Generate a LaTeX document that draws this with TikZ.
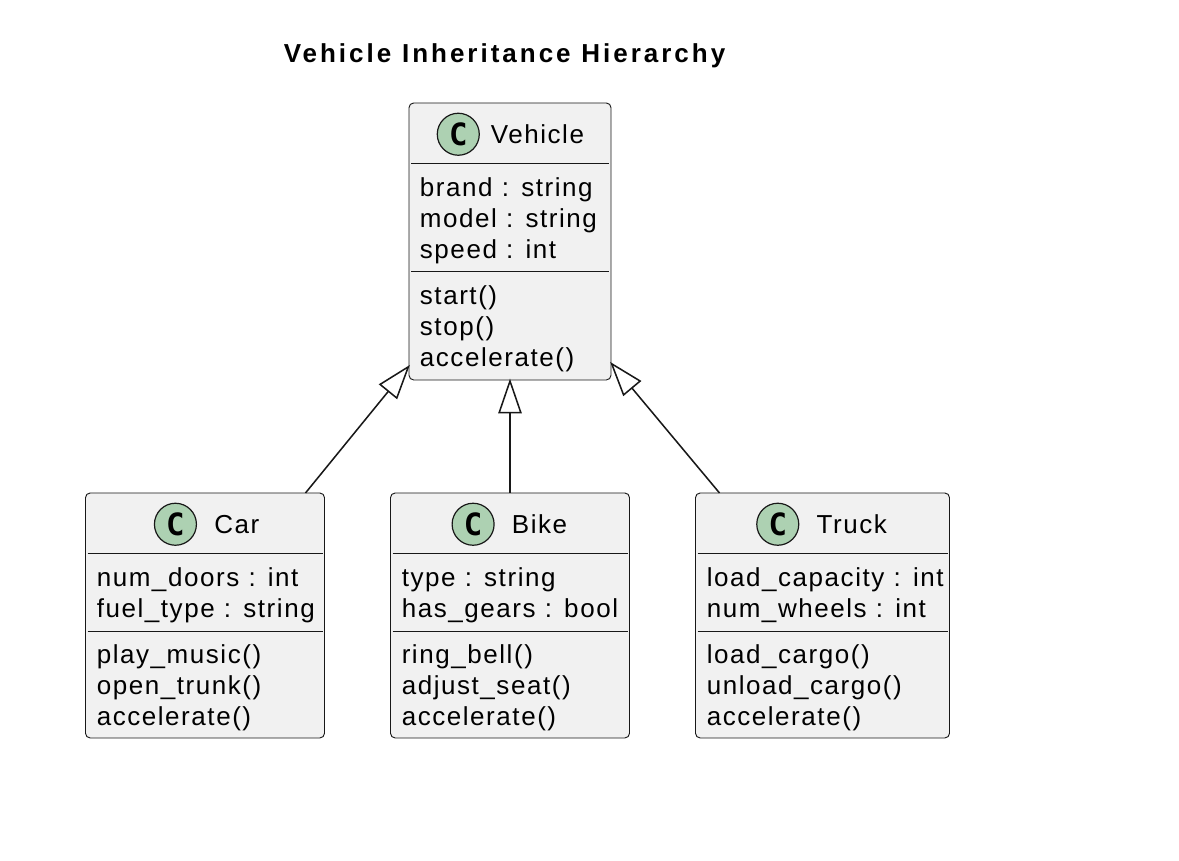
\documentclass[tikz,border=0pt]{standalone}
\usepackage{fontspec}
\setmainfont[LetterSpace=6,WordSpace=1.05]{Liberation Sans}
\newfontfamily\spotfont{DejaVu Sans Mono}
\usetikzlibrary{arrows.meta,positioning}
\definecolor{boxfill}{HTML}{F1F1F1}
\definecolor{boxline}{HTML}{181818}
\definecolor{spotfill}{HTML}{ADD1B2}

\begin{document}
\begin{tikzpicture}[
  node distance=49.5pt,
  classbox/.style={draw=boxline, fill=boxfill, rounded corners=3.5pt, line width=0.7pt,
                   minimum height=#1, inner sep=0pt, outer sep=0pt},
  classbox/.default=183.75pt,
  spot/.style={circle, draw=boxline, fill=spotfill, line width=0.9pt, minimum size=31.5pt,
               inner sep=0pt, font=\spotfont\bfseries\fontsize{23}{23}\selectfont},
  head/.style={inner sep=0pt, font=\fontsize{19.5}{23.25}\selectfont},
  members/.style={anchor=north west, inner sep=0pt, align=left,
                  font=\fontsize{19.5}{23.25}\selectfont},
  rule/.style={draw=boxline, line width=0.5pt},
  inherit/.style={{Triangle[open, length=26pt, width=17.5pt, fill=white]}-, draw=boxline, line width=1.15pt, shorten <=-1pt}]
\useasboundingbox (0,0) rectangle (884.25pt,-645.75pt);
\node[font=\bfseries\fontsize{19.5}{23}\selectfont, inner sep=0pt] (title) at (378.4pt,-42pt) {\addfontfeature{LetterSpace=11.5}Vehicle Inheritance Hierarchy};
% parent class
\node[classbox=207.75pt, minimum width=151.5pt] (vehicle) at (382.5pt,-181.1pt) {};
\node[classbox, minimum width=179.25pt, below=84.75pt of vehicle] (bike) {};
\node[classbox, minimum width=179.25pt, left=of bike] (car) {};
\node[classbox, minimum width=190.5pt, right=of bike] (truck) {};
% headers
\node[spot, below right=12pt and 25.5pt of vehicle.north west] (vehiclespot) {C};
\node[head, right=8pt of vehiclespot] (vehiclename) {Vehicle};
\node[spot, below right=12pt and 56pt of car.north west] (carspot) {C};
\node[head, right=12.75pt of carspot] (carname) {Car};
\node[spot, below right=12pt and 50.5pt of bike.north west] (bikespot) {C};
\node[head, right=12.75pt of bikespot] (bikename) {Bike};
\node[spot, below right=12pt and 50.25pt of truck.north west] (truckspot) {C};
\node[head, right=12.75pt of truckspot] (truckname) {Truck};
% members
\node[members] (vehiclefields) at ([xshift=8pt,yshift=-55.75pt]vehicle.north west) {brand : string\\model : string\\speed : int};
\node[members] (vehiclemethods) at ([xshift=8pt,yshift=-137pt]vehicle.north west) {start()\\stop()\\accelerate()};
\node[members] (carfields) at ([xshift=8.25pt,yshift=-55.75pt]car.north west) {num\_doors : int\\fuel\_type : string};
\node[members] (carmethods) at ([xshift=8.25pt,yshift=-113.75pt]car.north west) {play\_music()\\open\_trunk()\\accelerate()};
\node[members] (bikefields) at ([xshift=8.25pt,yshift=-55.75pt]bike.north west) {type : string\\has\_gears : bool};
\node[members] (bikemethods) at ([xshift=8.25pt,yshift=-113.75pt]bike.north west) {ring\_bell()\\adjust\_seat()\\accelerate()};
\node[members] (truckfields) at ([xshift=8.25pt,yshift=-55.75pt]truck.north west) {load\_capacity : int\\num\_wheels : int};
\node[members] (truckmethods) at ([xshift=8.25pt,yshift=-113.75pt]truck.north west) {load\_cargo()\\unload\_cargo()\\accelerate()};
% compartment rules
\draw[rule] ([xshift=1.5pt,yshift=-45pt]vehicle.north west) -- ([xshift=-1.5pt,yshift=-45pt]vehicle.north east);
\draw[rule] ([xshift=1.5pt,yshift=-126pt]vehicle.north west) -- ([xshift=-1.5pt,yshift=-126pt]vehicle.north east);
\draw[rule] ([xshift=1.5pt,yshift=-45pt]car.north west) -- ([xshift=-1.5pt,yshift=-45pt]car.north east);
\draw[rule] ([xshift=1.5pt,yshift=-103.5pt]car.north west) -- ([xshift=-1.5pt,yshift=-103.5pt]car.north east);
\draw[rule] ([xshift=1.5pt,yshift=-45pt]bike.north west) -- ([xshift=-1.5pt,yshift=-45pt]bike.north east);
\draw[rule] ([xshift=1.5pt,yshift=-103.5pt]bike.north west) -- ([xshift=-1.5pt,yshift=-103.5pt]bike.north east);
\draw[rule] ([xshift=1.5pt,yshift=-45pt]truck.north west) -- ([xshift=-1.5pt,yshift=-45pt]truck.north east);
\draw[rule] ([xshift=1.5pt,yshift=-103.5pt]truck.north west) -- ([xshift=-1.5pt,yshift=-103.5pt]truck.north east);
% inheritance
\draw[inherit] ([yshift=10.5pt]vehicle.south west) -- ([xshift=-14.25pt]car.north east);
\draw[inherit] (vehicle.south) -- (bike.north);
\draw[inherit] ([yshift=12.75pt]vehicle.south east) -- ([xshift=18pt]truck.north west);
\end{tikzpicture}
\end{document}
